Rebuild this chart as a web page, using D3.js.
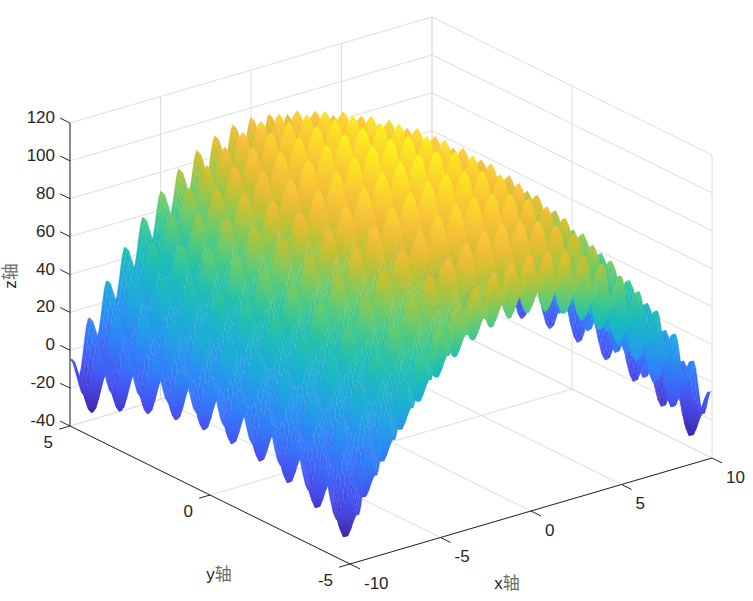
<!DOCTYPE html>
<html>
<head>
<meta charset="utf-8">
<script src="https://cdn.jsdelivr.net/npm/d3@7"></script>
<style>
    html, body { margin: 0; background: #fff; }
    text { font-family: "Liberation Sans", "Noto Sans CJK SC", sans-serif; fill: #262626; }
</style>
</head>
<body>
<svg id="chart" width="753" height="601"></svg>
<script>
// profiles, one value every 0.1 along each axis
// the height of a surface point is xProfile[i] + yProfile[j]
const xProfile = [
    -90, -89.9, -93.0, -97.2, -100.2, -100.2, -96.4, -89.6, -81.6, -74.7,
    -71, -71.1, -74.4, -78.8, -82.0, -82.2, -78.7, -72.0, -64.2, -57.5,
    -54, -54.3, -57.8, -62.4, -65.8, -66.2, -62.8, -56.4, -48.8, -42.3,
    -39, -39.5, -43.2, -48.0, -51.6, -52.2, -49.0, -42.8, -35.4, -29.1,
    -26, -26.7, -30.6, -35.6, -39.5, -40.2, -37.2, -31.2, -24.0, -17.9,
    -15, -15.9, -20.0, -25.2, -29.2, -30.2, -27.4, -21.6, -14.6, -8.7,
    -6, -7.1, -11.4, -16.8, -21.0, -22.2, -19.7, -14.0, -7.2, -1.5,
    1, -0.3, -4.8, -10.4, -14.9, -16.2, -13.9, -8.4, -1.8, 3.7,
    6, 4.5, -0.2, -6.0, -10.6, -12.2, -10.1, -4.8, 1.7, 6.9,
    9, 7.3, 2.4, -3.6, -8.5, -10.2, -8.2, -3.2, 3.1, 8.1,
    10, 8.1, 3.1, -3.2, -8.2, -10.2, -8.5, -3.6, 2.4, 7.3,
    9, 6.9, 1.7, -4.8, -10.1, -12.2, -10.6, -6.0, -0.2, 4.5,
    6, 3.7, -1.8, -8.4, -13.9, -16.2, -14.9, -10.4, -4.8, -0.3,
    1, -1.5, -7.2, -14.0, -19.7, -22.2, -21.0, -16.8, -11.4, -7.1,
    -6, -8.7, -14.6, -21.6, -27.4, -30.2, -29.2, -25.2, -20.0, -15.9,
    -15, -17.9, -24.0, -31.2, -37.2, -40.2, -39.5, -35.6, -30.6, -26.7,
    -26, -29.1, -35.4, -42.8, -49.0, -52.2, -51.6, -48.0, -43.2, -39.5,
    -39, -42.3, -48.8, -56.4, -62.8, -66.2, -65.8, -62.4, -57.8, -54.3,
    -54, -57.5, -64.2, -72.0, -78.7, -82.2, -82.0, -78.8, -74.4, -71.1,
    -71, -74.7, -81.6, -89.6, -96.4, -100.2, -100.2, -97.2, -93.0, -89.9,
    -90
];
const yProfile = [
    85, 84.1, 80.0, 74.8, 70.8, 69.8, 72.6, 78.4, 85.4, 91.3,
    94, 92.9, 88.6, 83.2, 79.0, 77.8, 80.3, 86.0, 92.8, 98.5,
    101, 99.7, 95.2, 89.6, 85.1, 83.8, 86.1, 91.6, 98.2, 103.7,
    106, 104.5, 99.8, 94.0, 89.4, 87.8, 89.9, 95.2, 101.7, 106.9,
    109, 107.3, 102.4, 96.4, 91.5, 89.8, 91.8, 96.8, 103.1, 108.1,
    110, 108.1, 103.1, 96.8, 91.8, 89.8, 91.5, 96.4, 102.4, 107.3,
    109, 106.9, 101.7, 95.2, 89.9, 87.8, 89.4, 94.0, 99.8, 104.5,
    106, 103.7, 98.2, 91.6, 86.1, 83.8, 85.1, 89.6, 95.2, 99.7,
    101, 98.5, 92.8, 86.0, 80.3, 77.8, 79.0, 83.2, 88.6, 92.9,
    94, 91.3, 85.4, 78.4, 72.6, 69.8, 70.8, 74.8, 80.0, 84.1,
    85
];
const xTicks = [-10, -5, 0, 5, 10];
const yTicks = [-5, 0, 5];
const zTicks = [-40, -20, 0, 20, 40, 60, 80, 100, 120];
const parulaStops = ["#3e26a8", "#484df0", "#327bfc", "#20a5e2", "#19bfb5", "#64cd6f", "#d1bf27", "#f8ba3d", "#fccf30", "#f9fb15"];
const parulaPlaces = [0, 8, 16, 24, 32, 40, 48, 52, 56, 63];

const svg = d3.select("#chart");
const ink = "#262626";
const grid = "#dedede";

// orthographic view: screen offsets of each data axis, fitted to the box corners
const xH = d3.scaleLinear().domain([-10, 10]).range([0, 362]);
const xV = d3.scaleLinear().domain([-10, 10]).range([0, -106]);
const yH = d3.scaleLinear().domain([-5, 5]).range([0, -280]);
const yV = d3.scaleLinear().domain([-5, 5]).range([0, -138]);
const zV = d3.scaleLinear().domain([-40, 120]).range([0, -303]);

function project(x, y, z) {
    return [350 + xH(x) + yH(y), 564 + xV(x) + yV(y) + zV(z)];
}

function line(a, b, color, cls) {
    const p = project(a[0], a[1], a[2]);
    const q = project(b[0], b[1], b[2]);
    svg.append("line")
        .attr("class", cls)
        .attr("x1", p[0]).attr("y1", p[1])
        .attr("x2", q[0]).attr("y2", q[1])
        .attr("stroke", color)
        .attr("stroke-width", 1);
}

// back walls and floor grid
zTicks.forEach(function(z) {
    line([-10, 5, z], [10, 5, z], grid, "grid");
    line([10, 5, z], [10, -5, z], grid, "grid");
});
xTicks.forEach(function(x) {
    line([x, 5, -40], [x, 5, 120], grid, "grid");
    line([x, -5, -40], [x, 5, -40], grid, "grid");
});
yTicks.forEach(function(y) {
    line([10, y, -40], [10, y, 120], grid, "grid");
    line([-10, y, -40], [10, y, -40], grid, "grid");
});

// surface, painted from the far corner to the near one
const xs = d3.range(xProfile.length).map(function(i) { return -10 + i / 10; });
const ys = d3.range(yProfile.length).map(function(j) { return -5 + j / 10; });
const color = d3.scaleLinear()
    .domain(parulaPlaces.map(function(p) { return -30.5 + 150.5 * p / 63; }))
    .range(parulaStops);

// colour runs across each face, like interpolated shading: work out the direction
// on screen in which height changes and spread the face's colours along it
function shade(screen, zs) {
    const dx1 = screen[2][0] - screen[0][0], dy1 = screen[2][1] - screen[0][1];
    const dx2 = screen[3][0] - screen[1][0], dy2 = screen[3][1] - screen[1][1];
    const dz1 = zs[2] - zs[0], dz2 = zs[3] - zs[1];
    const det = dx1 * dy2 - dx2 * dy1;
    const zMid = d3.mean(zs);
    const half = (d3.max(zs) - d3.min(zs)) / 2;
    const flat = { x1: 0, y1: 0, x2: 1, y2: 0, from: color(zMid), to: color(zMid) };
    if (Math.abs(det) < 0.01 || half < 0.01) return flat;
    const a = (dz1 * dy2 - dz2 * dy1) / det;
    const b = (dx1 * dz2 - dx2 * dz1) / det;
    const len2 = a * a + b * b;
    if (len2 < 1e-6) return flat;
    const cx = d3.mean(screen, function(p) { return p[0]; });
    const cy = d3.mean(screen, function(p) { return p[1]; });
    return {
        x1: cx - a / len2 * half, y1: cy - b / len2 * half,
        x2: cx + a / len2 * half, y2: cy + b / len2 * half,
        from: color(zMid - half), to: color(zMid + half)
    };
}

const quads = [];
for (let i = xs.length - 2; i >= 0; i--) {
    for (let j = ys.length - 2; j >= 0; j--) {
        const corners = [[i, j], [i + 1, j], [i + 1, j + 1], [i, j + 1]].map(function(c) {
            return [xs[c[0]], ys[c[1]], xProfile[c[0]] + yProfile[c[1]]];
        });
        const screen = corners.map(function(c) { return project(c[0], c[1], c[2]); });
        // faces turned away are covered later, except along the two near sides
        // where the underside can show
        if (d3.polygonArea(screen) > 0 || i < 6 || j < 6) {
            quads.push({
                id: "f" + quads.length,
                screen: screen,
                shade: shade(screen, corners.map(function(c) { return c[2]; }))
            });
        }
    }
}

const defs = svg.append("defs");
// slight softening, the reference surface is a resampled image
defs.append("filter")
    .attr("id", "soft")
    .attr("filterUnits", "userSpaceOnUse")
    .attr("x", 0).attr("y", 0).attr("width", 753).attr("height", 601)
    .append("feGaussianBlur")
    .attr("stdDeviation", 0.45);

const gradients = defs
    .selectAll("linearGradient")
    .data(quads)
    .enter().append("linearGradient")
    .attr("id", function(d) { return d.id; })
    .attr("gradientUnits", "userSpaceOnUse")
    .attr("x1", function(d) { return d.shade.x1.toFixed(2); })
    .attr("y1", function(d) { return d.shade.y1.toFixed(2); })
    .attr("x2", function(d) { return d.shade.x2.toFixed(2); })
    .attr("y2", function(d) { return d.shade.y2.toFixed(2); });
gradients.append("stop").attr("offset", 0).attr("stop-color", function(d) { return d.shade.from; });
gradients.append("stop").attr("offset", 1).attr("stop-color", function(d) { return d.shade.to; });

svg.append("g").attr("class", "surface")
    .attr("filter", "url(#soft)")
    .selectAll("path")
    .data(quads)
    .enter().append("path")
    .attr("d", function(d) {
        return "M" + d.screen.map(function(p) {
            return p[0].toFixed(2) + "," + p[1].toFixed(2);
        }).join("L") + "Z";
    })
    .attr("fill", function(d) { return "url(#" + d.id + ")"; })
    .attr("stroke", function(d) { return "url(#" + d.id + ")"; })
    .attr("stroke-width", 0.3);

// axis lines
line([-10, 5, -40], [-10, 5, 120], ink, "axis");
line([-10, 5, -40], [-10, -5, -40], ink, "axis");
line([-10, -5, -40], [10, -5, -40], ink, "axis");

function tickLabel(pos, txt, anchor) {
    return svg.append("text")
        .attr("x", pos[0]).attr("y", pos[1])
        .attr("text-anchor", anchor)
        .attr("dominant-baseline", "central")
        .style("font-size", "17px")
        .text(txt);
}

function axisLabel(pos, latin, rotate) {
    const t = svg.append("text")
        .attr("text-anchor", "middle")
        .attr("dominant-baseline", "central")
        .attr("transform", "translate(" + pos[0] + "," + pos[1] + ") rotate(" + rotate + ")")
        .style("font-size", "17px");
    t.append("tspan").text(latin);
    // the CJK glyph comes out thin and grey in the reference
    t.append("tspan").style("fill", "#6e6e6e").text("轴");
}

// ticks and tick labels
zTicks.forEach(function(z) {
    line([-10, 5, z], [-10, 5.35, z], ink, "tick");
    const p = project(-10, 5, z);
    tickLabel([p[0] - 15, p[1] - 5.5], z, "end");
});
yTicks.forEach(function(y) {
    line([-10, y, -40], [-10.6, y, -40], ink, "tick");
    const p = project(-10, y, -40);
    tickLabel([p[0] - 17, p[1] + 16.5], y, "end");
});
xTicks.forEach(function(x) {
    line([x, -5, -40], [x, -5.36, -40], ink, "tick");
    const p = project(x, -5, -40);
    tickLabel([p[0] + 14, p[1] + 19], x, "start");
});

axisLabel([507, 583], "x", 0);
axisLabel([219, 574], "y", 0);
axisLabel([10, 276], "z", -90);
</script>
</body>
</html>
